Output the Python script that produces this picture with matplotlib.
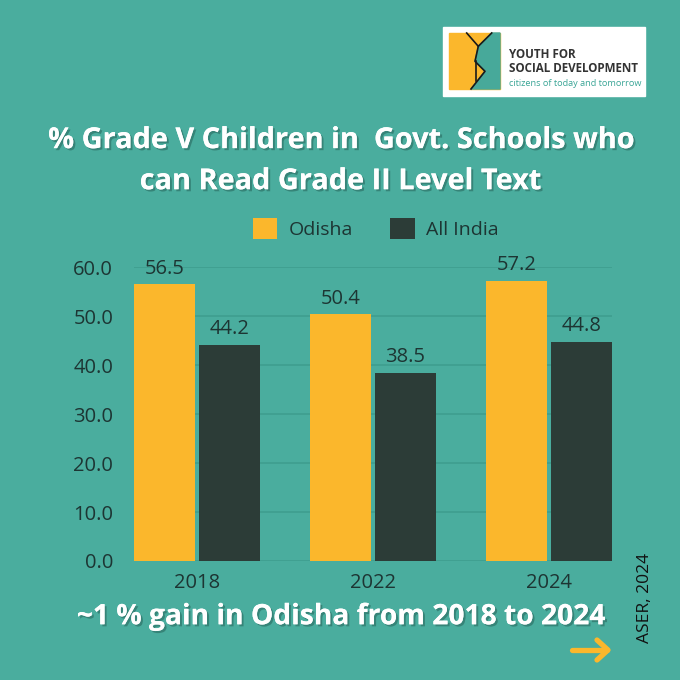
"""ASER: odsetek uczniów klasy V czytających tekst klasy II."""

import matplotlib.pyplot as plt
import matplotlib.patheffects as pe
from matplotlib.patches import Rectangle, Polygon
import numpy as np

years = ["2018", "2022", "2024"]
odisha = [56.5, 50.4, 57.2]
all_india = [44.2, 38.5, 44.8]
yticks = [0, 10, 20, 30, 40, 50, 60]

BG = "#4aad9e"
GOLD = "#fbb72c"
DARK = "#2c3c37"
GRID = "#3f9e8f"
TEXT = "#1d3533"
FONT = ["Open Sans", "DejaVu Sans"]

plt.rcParams["font.family"] = FONT

fig = plt.figure(figsize=(6.8, 6.8), dpi=100, facecolor=BG)
ax = fig.add_axes([0.197, 0.175, 0.703, 0.432])
ax.set_facecolor(BG)

x = np.arange(len(years))
w = 0.348
off = 0.185
b1 = ax.bar(x - off, odisha, w, color=GOLD, label="Odisha", zorder=3)
b2 = ax.bar(x + off, all_india, w, color=DARK, label="All India", zorder=3)

for bars, vals in ((b1, odisha), (b2, all_india)):
    for bar, v in zip(bars, vals):
        ax.annotate(f"{v:.1f}", (bar.get_x() + bar.get_width() / 2, v),
                    xytext=(0, 4), textcoords="offset points",
                    ha="center", va="bottom", fontsize=14.5, color=TEXT)

ax.set_xlim(-0.36, 2.36)
ax.set_ylim(0, 60)
ax.set_yticks(yticks)
ax.set_yticklabels([f"{t:.1f}" for t in yticks], fontsize=14.5, color=TEXT)
ax.set_xticks(x)
ax.set_xticklabels(years, fontsize=14.5, color=TEXT)
ax.tick_params(length=0, pad=9)
ax.tick_params(axis="y", pad=15)
ax.grid(axis="y", color=GRID, linewidth=1.2, zorder=0)
for s in ax.spines.values():
    s.set_visible(False)

leg = fig.legend(handles=[b1, b2], loc="center", bbox_to_anchor=(0.553, 0.664),
                 ncol=2, frameon=False, fontsize=14, handlelength=1.25,
                 handleheight=1.25, columnspacing=1.9, handletextpad=0.6)
for t in leg.get_texts():
    t.set_color(TEXT)

shadow = [pe.withSimplePatchShadow(offset=(1.5, -1.5), shadow_rgbFace="#2a6a60", alpha=0.6),
          pe.Normal()]
fig.text(0.5, 0.763, "% Grade V Children in  Govt. Schools who\ncan Read Grade II Level Text",
         ha="center", va="center", fontsize=20.8, fontweight="bold", color="white",
         linespacing=1.55, path_effects=shadow)
fig.text(0.503, 0.093, "~1 % gain in Odisha from 2018 to 2024",
         ha="center", va="center", fontsize=20.3, fontweight="bold", color="white",
         path_effects=shadow)
fig.text(0.948, 0.12, "ASER, 2024", rotation=90, ha="center", va="center",
         fontsize=12.5, color="#111")

# logo i strzałka, w pikselach figury
deco = fig.add_axes([0, 0, 1, 1], facecolor="none")
deco.set_xlim(0, 680)
deco.set_ylim(680, 0)
deco.axis("off")
deco.add_patch(Rectangle((443, 27), 202, 69, color="white"))
deco.add_patch(Rectangle((449, 33), 51, 56, color=GOLD))
deco.add_patch(Polygon([(491.7, 33), (500, 33), (500, 89), (471, 89), (485, 71.3),
                        (475, 61.3), (478.3, 46.3)], color="#47a99a"))
deco.plot([466.7, 478.3, 491.7], [33, 46.3, 33], color="#1a1a1a", lw=1.2)
deco.plot([478.3, 475, 485, 471], [46.3, 61.3, 71.3, 89], color="#1a1a1a", lw=1.2)
deco.plot([476, 476], [61.3, 81.3], color="#1a1a1a", lw=1.2)
deco.text(509, 54, "YOUTH FOR", fontsize=8.4, fontweight="bold", color="#333",
          va="center")
deco.text(509, 69, "SOCIAL DEVELOPMENT", fontsize=8.4, fontweight="bold", color="#333",
          va="center")
deco.text(509, 84, "citizens of today and tomorrow", fontsize=6.6, color="#3aa596",
          va="center")
deco.plot([572, 607], [650, 650], color=GOLD, lw=3.8, solid_capstyle="round")
deco.plot([597, 608, 597], [640, 650, 660], color=GOLD, lw=3.8,
          solid_capstyle="round", solid_joinstyle="round")

fig.savefig("out.png", dpi=100, facecolor=BG)
